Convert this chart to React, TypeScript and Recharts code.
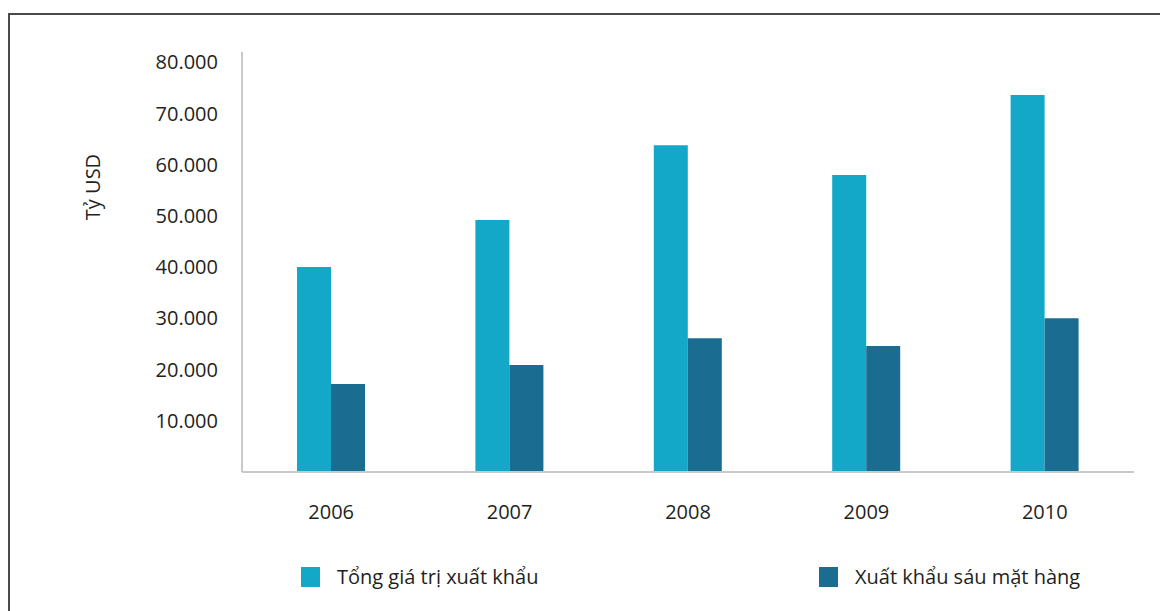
import { Bar, BarChart, XAxis, YAxis } from 'recharts';

// giá trị (triệu USD)
const years = ['2006', '2007', '2008', '2009', '2010'];
const tongGiaTri = [40000, 49200, 63800, 58000, 73600];
const sauMatHang = [17200, 20900, 26100, 24600, 30000];
const yTicks = [10000, 20000, 30000, 40000, 50000, 60000, 70000, 80000];

const LIGHT = '#13a7c8';
const DARK = '#1a6d91';
const AXIS = '#c8c8cd';
const TEXT = '#231f20';
const FONT = '"Open Sans", sans-serif';
const FS = 20;

const data = years.map((y, i) => ({
  year: y,
  tong: tongGiaTri[i],
  sau: sauMatHang[i],
}));

const fmt = (v: number) => v.toLocaleString('de-DE');

export default function App() {
  return (
    <div style={{ position: 'relative', width: 1160, height: 603, fontFamily: FONT, overflow: 'hidden' }}>
      {/* khung */}
      <div
        style={{
          position: 'absolute',
          left: 0,
          top: 5,
          width: 1170,
          height: 620,
          borderTop: '2px solid #4a4a4a',
          borderLeft: '2px solid #4a4a4a',
        }}
      />
      <div style={{ position: 'absolute', left: 0, top: 0 }}>
        <BarChart
          width={1160}
          height={560}
          data={data}
          margin={{ top: 44, right: 34, left: 154, bottom: 66 }}
          barGap={0}
        >
          <XAxis
            dataKey="year"
            tickLine={false}
            tickSize={0}
            tickMargin={33}
            axisLine={{ stroke: AXIS, strokeWidth: 2 }}
            tick={{ fontSize: FS, fill: TEXT, fontFamily: FONT }}
            height={30}
          />
          <YAxis
            width={80}
            domain={[0, 82000]}
            ticks={yTicks}
            tickFormatter={fmt}
            tickLine={false}
            tickSize={0}
            tickMargin={24}
            axisLine={{ stroke: AXIS, strokeWidth: 2 }}
            tick={{ fontSize: FS, fill: TEXT, fontFamily: FONT }}
            label={{
              value: 'Tỷ USD',
              angle: -90,
              position: 'insideLeft',
              offset: -69,
              style: { fontSize: FS, fill: TEXT, fontFamily: FONT, textAnchor: 'middle' },
              dy: -75,
            }}
          />
          <Bar dataKey="tong" fill={LIGHT} barSize={34} isAnimationActive={false} />
          <Bar dataKey="sau" fill={DARK} barSize={34} isAnimationActive={false} />
        </BarChart>
      </div>
      {/* chú thích */}
      {[
        { label: 'Tổng giá trị xuất khẩu', color: LIGHT, x: 293 },
        { label: 'Xuất khẩu sáu mặt hàng', color: DARK, x: 811 },
      ].map((d) => (
        <div
          key={d.label}
          style={{ position: 'absolute', left: d.x, top: 559, display: 'flex', alignItems: 'center' }}
        >
          <span style={{ width: 19, height: 20, background: d.color, display: 'inline-block' }} />
          <span style={{ marginLeft: 17, fontSize: FS, color: TEXT, lineHeight: '20px' }}>{d.label}</span>
        </div>
      ))}
    </div>
  );
}
